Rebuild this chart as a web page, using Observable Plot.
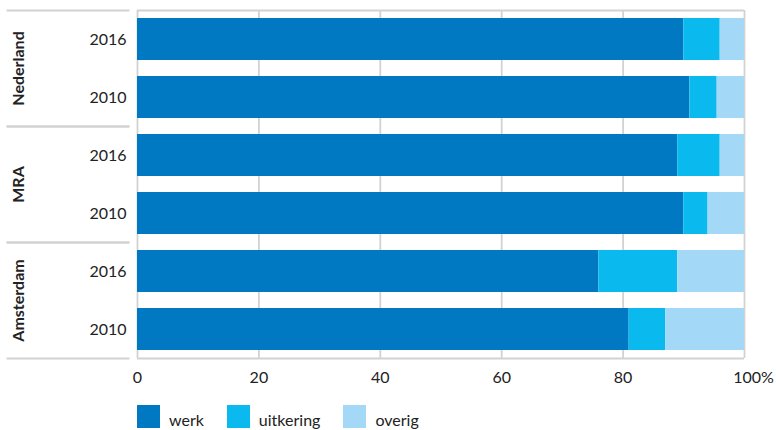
<!DOCTYPE html>
<html>
<head>
<meta charset="utf-8">
<script src="https://cdn.jsdelivr.net/npm/d3@7"></script>
<script src="https://cdn.jsdelivr.net/npm/@observablehq/plot@0.6"></script>
<style>
  body { margin: 0; background: #fff; font-family: Lato, "Open Sans", sans-serif; }
  #legend { display: flex; gap: 0; margin-left: 137px; margin-top: 15px; font-size: 16px; color: #222; }
  .item { display: flex; align-items: flex-start; margin-right: 23px; }
  .sw { width: 23px; height: 23px; margin-right: 9px; }
  .lbl { line-height: 23px; padding-top: 3px; }
</style>
</head>
<body>
<div id="chart"></div>
<div id="legend"></div>
<script>
const regions = ["Nederland", "MRA", "Amsterdam"];
const years = ["2016", "2010"];
const categories = ["werk", "uitkering", "overig"];
const colors = ["#0079c2", "#0abaee", "#a3d9f7"];
// order: Nederland 2016, Nederland 2010, MRA 2016, MRA 2010, Amsterdam 2016, Amsterdam 2010
const werk      = [90, 91, 89, 90, 76, 81];
const uitkering = [6, 4.5, 7, 4, 13, 6];
const overig    = [4, 4.5, 4, 6, 11, 13];
const xTicks = [0, 20, 40, 60, 80, 100];

const series = {werk, uitkering, overig};
const rows = [];
regions.forEach((r, ri) => years.forEach((y, yi) => {
  const i = ri * 2 + yi;
  categories.forEach(c => rows.push({region: r, year: y, type: c, value: series[c][i]}));
}));
const borderTop = [{region: regions[0], year: years[0]}];
const borderBottom = [{region: regions[regions.length - 1], year: years[years.length - 1]}];

const grid = "#d2d2d2";
const chart = Plot.plot({
  width: 776,
  height: 390,
  marginLeft: 137,
  marginRight: 32,
  marginTop: 10,
  marginBottom: 32,
  style: {fontFamily: "Lato, 'Open Sans', sans-serif", fontSize: "16px", color: "#222"},
  x: {domain: [0, 100], axis: null},
  y: {domain: years, paddingInner: 0.276, paddingOuter: 0.138, axis: null},
  fy: {domain: regions, padding: 0, axis: null},
  color: {domain: categories, range: colors},
  marks: [
    Plot.ruleX(xTicks, {stroke: grid, strokeWidth: 1.8}),
    Plot.ruleY(borderTop, {fy: "region", y: "year", dy: -29, stroke: grid, strokeWidth: 1.8}),
    Plot.ruleY(borderBottom, {fy: "region", y: "year", dy: 29, stroke: grid, strokeWidth: 1.8}),
    Plot.frame({anchor: "top", insetLeft: -130, insetRight: 616, stroke: grid, strokeWidth: 1.8}),
    Plot.frame({anchor: "bottom", insetLeft: -130, insetRight: 616, stroke: grid, strokeWidth: 1.8}),
    Plot.barX(rows, Plot.stackX({x: "value", y: "year", fy: "region", fill: "type", order: categories})),
    Plot.axisY({tickSize: 0, tickPadding: 11, fontSize: 16, label: null}),
    Plot.axisX(xTicks.slice(0, -1), {tickSize: 0, tickPadding: 13, fontSize: 16, label: null}),
    Plot.axisX(xTicks.slice(-1), {tickSize: 0, tickPadding: 13, fontSize: 16, label: null, tickFormat: d => d + "%", dx: 9}),
    Plot.text(regions, {fy: d => d, text: d => d, frameAnchor: "left", textAnchor: "middle", rotate: -90, dx: -119, fontWeight: 700, fontSize: 16, fill: "#222"})
  ]
});
document.getElementById("chart").append(chart);

const legend = document.getElementById("legend");
categories.forEach((c, i) => {
  const item = document.createElement("div");
  item.className = "item";
  item.innerHTML = `<div class="sw" style="background:${colors[i]}"></div><div class="lbl">${c}</div>`;
  legend.append(item);
});
</script>
</body>
</html>
